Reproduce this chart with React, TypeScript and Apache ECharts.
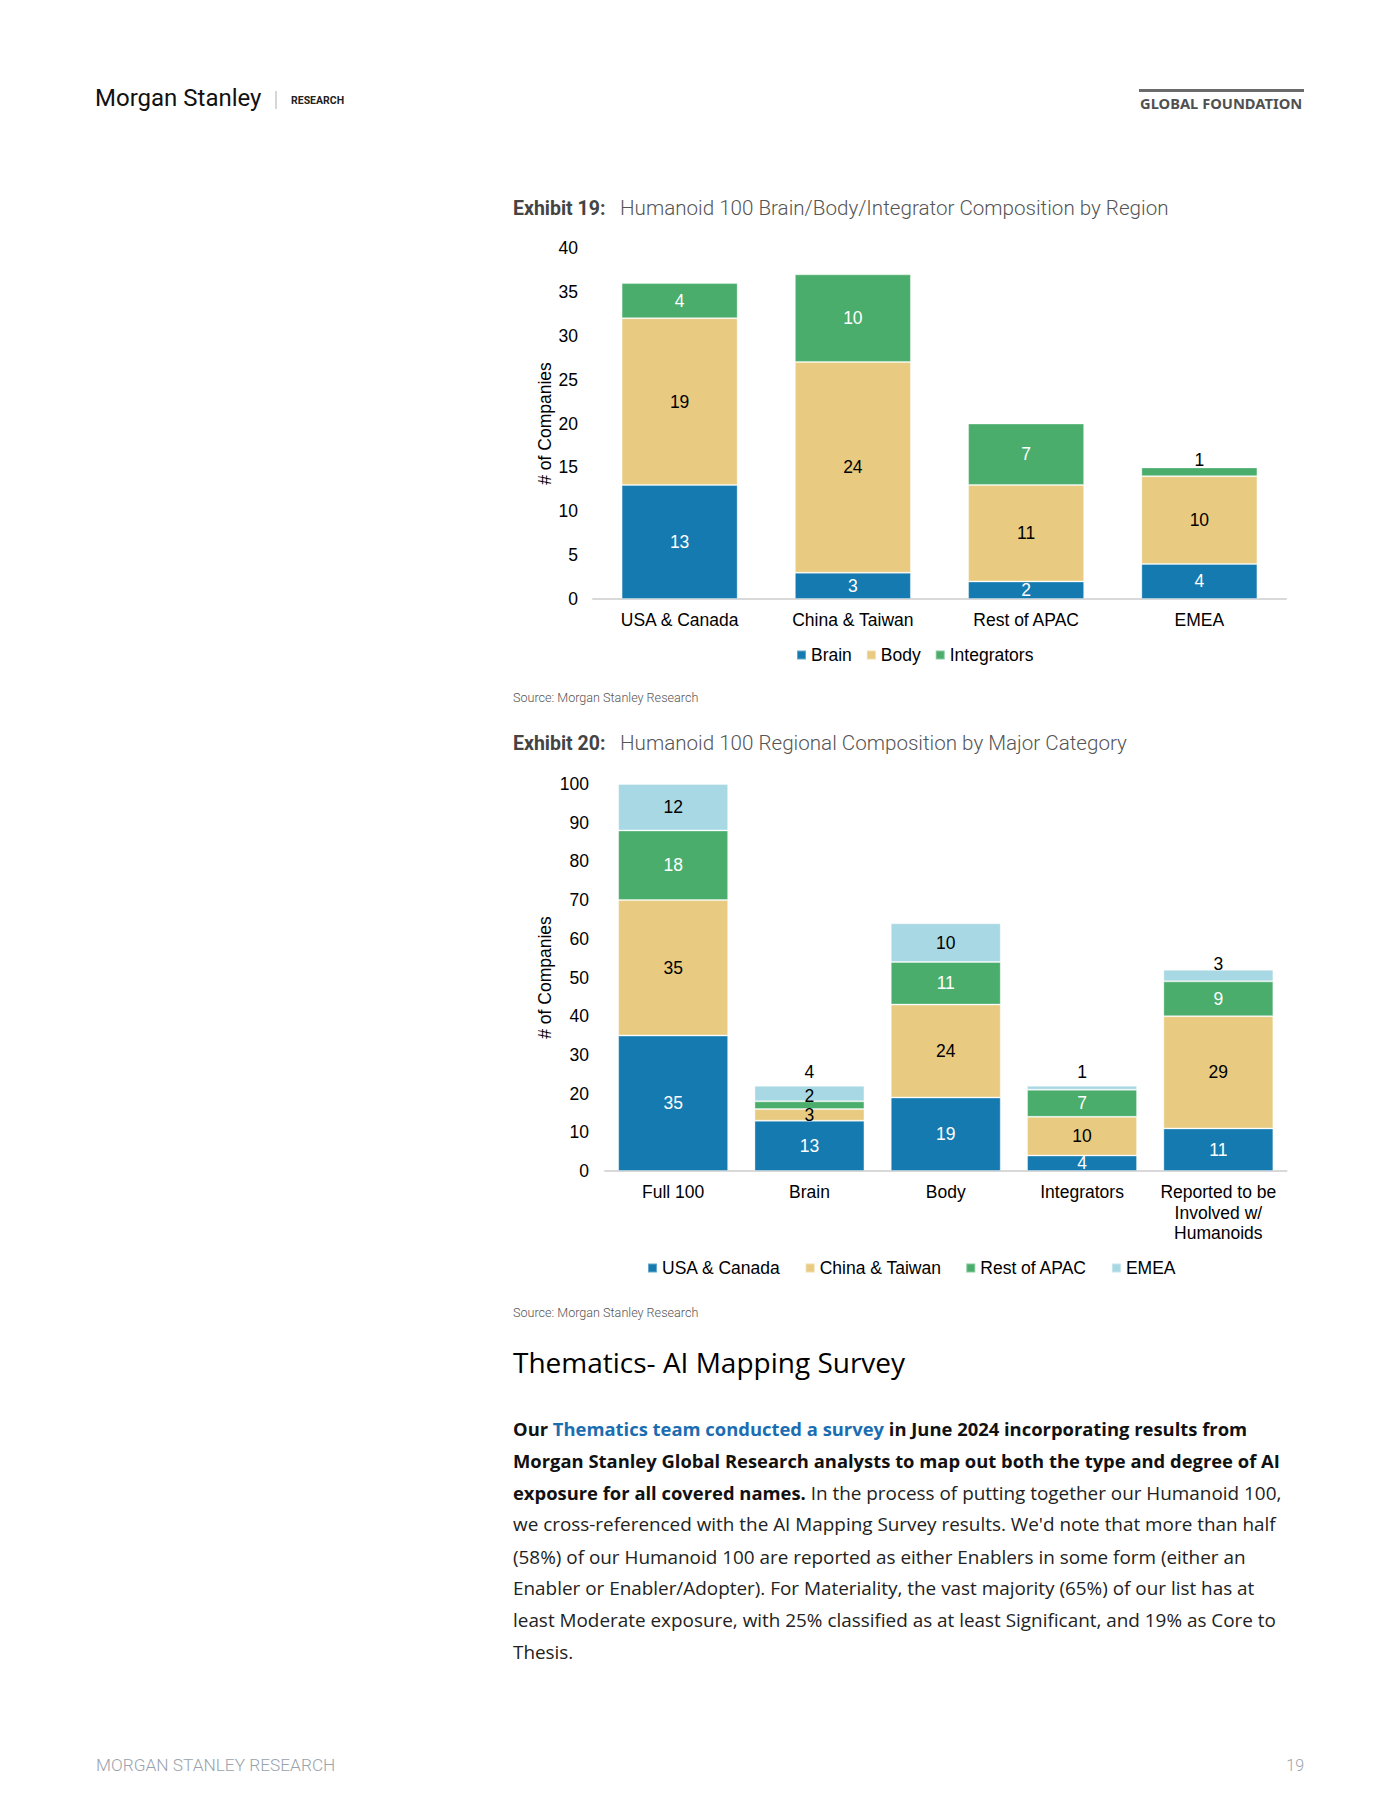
import React, { useEffect, useRef } from "react";
import * as echarts from "echarts";

// ---- Exhibit 19 data ----
const regions = ["USA & Canada", "China & Taiwan", "Rest of APAC", "EMEA"];
const brainByRegion = [13, 3, 2, 4];
const bodyByRegion = [19, 24, 11, 10];
const integratorsByRegion = [4, 10, 7, 1];

// ---- Exhibit 20 data ----
const majorCategories = ["Full 100", "Brain", "Body", "Integrators", "Reported to be\nInvolved w/\nHumanoids"];
const usaCanada = [35, 13, 19, 4, 11];
const chinaTaiwan = [35, 3, 24, 10, 29];
const restOfApac = [18, 2, 11, 7, 9];
const emea = [12, 4, 10, 1, 3];

const BLUE = "#157AB0";
const YELLOW = "#E8CB80";
const GREEN = "#4AAD6C";
const LIGHTBLUE = "#A8D8E3";

const LABEL_FONT = "Liberation Sans";
const UI_FONT = "Roboto";
const BODY_FONT = "'Open Sans'";
const FS = 17.5;

const barLabel = (color: string) => ({
  show: true,
  position: "inside",
  color,
  fontSize: FS,
  fontFamily: LABEL_FONT,
});

const itemStyle = (color: string) => ({
  color,
  borderColor: "rgba(255,255,255,0.35)",
  borderWidth: 1,
});

export default function App() {
  const ref = useRef<HTMLDivElement>(null);

  useEffect(() => {
    if (!ref.current) return;
    const chart = echarts.init(ref.current, null, { renderer: "svg" });

    const axisLabelX = {
      fontSize: FS,
      color: "#000",
      fontFamily: LABEL_FONT,
      margin: 11,
      lineHeight: 20.5,
      interval: 0,
    };
    const axisLabelY = (margin: number) => ({
      fontSize: FS,
      color: "#000",
      fontFamily: LABEL_FONT,
      margin,
    });

    // chart 1: top series label above bar when segment is thin
    const integratorsData = integratorsByRegion.map((v) =>
      v <= 2
        ? { value: v, label: { position: "top", color: "#000", distance: -1.5 } }
        : v
    );
    // chart 2: top series small segments labelled above the bar
    const emeaData = emea.map((v) =>
      v < 5
        ? { value: v, label: { position: "top", color: "#000", distance: v === 3 ? -3.5 : 4.5 } }
        : v
    );
    const restData = restOfApac.map((v, i) =>
      i === 1 ? { value: v, label: { color: "#000", offset: [0, -9] } } : v
    );

    const paraLines: string[] = [
      "{b|Our }{l|Thematics team conducted a survey}{b| in June 2024 incorporating results from}",
      "{b|Morgan Stanley Global Research analysts to map out both the type and degree of AI}",
      "{b|exposure for all covered names.}{n| In the process of putting together our Humanoid 100,}",
      "{n|we cross-referenced with the AI Mapping Survey results. We'd note that more than half}",
      "{n|(58%) of our Humanoid 100 are reported as either Enablers in some form (either an}",
      "{n|Enabler or Enabler/Adopter). For Materiality, the vast majority (65%) of our list has at}",
      "{n|least Moderate exposure, with 25% classified as at least Significant, and 19% as Core to}",
      "{n|Thesis.}",
    ];
    const paraY = [1428, 1460, 1492.5, 1524, 1556.5, 1588, 1620, 1652];
    const rich = {
      b: { fontFamily: BODY_FONT, fontSize: 18.4, fontWeight: "bold", fill: "#111" },
      l: { fontFamily: BODY_FONT, fontSize: 18.4, fontWeight: "bold", fill: "#1B6DB1" },
      n: { fontFamily: BODY_FONT, fontSize: 18.9, fontWeight: "normal", fill: "#222" },
    };

    const graphics: any[] = [
      // header
      {
        type: "text",
        x: 95,
        y: 98,
        style: { text: "Morgan Stanley", font: `24px ${UI_FONT}`, fill: "#111", textVerticalAlign: "middle" },
      },
      { type: "line", shape: { x1: 276, y1: 91, x2: 276, y2: 109 }, style: { stroke: "#c8c8c8", lineWidth: 1.5 } },
      {
        type: "text",
        x: 291,
        y: 100,
        style: { text: "RESEARCH", font: `bold 10.5px ${UI_FONT}`, fill: "#222", textVerticalAlign: "middle" },
      },
      { type: "line", shape: { x1: 1139, y1: 90.5, x2: 1304, y2: 90.5 }, style: { stroke: "#6b6b6b", lineWidth: 3 } },
      {
        type: "text",
        x: 1140,
        y: 102.5,
        style: { text: "GLOBAL FOUNDATION", font: `bold 14.7px 'Noto Sans'`, fill: "#505050", textVerticalAlign: "middle" },
      },
      // exhibit 19 title
      {
        type: "text",
        x: 513,
        y: 208,
        style: { text: "Exhibit 19:", font: `bold 19.5px ${UI_FONT}`, fill: "#444", textVerticalAlign: "middle" },
      },
      {
        type: "text",
        x: 620,
        y: 208,
        style: {
          text: "Humanoid 100 Brain/Body/Integrator Composition by Region",
          font: `300 20.6px ${UI_FONT}`,
          fill: "#555",
          textVerticalAlign: "middle",
        },
      },
      {
        type: "text",
        x: 513,
        y: 697,
        style: { text: "Source: Morgan Stanley Research", font: `300 12.6px ${UI_FONT}`, fill: "#555", textVerticalAlign: "middle" },
      },
      // exhibit 20 title
      {
        type: "text",
        x: 513,
        y: 743,
        style: { text: "Exhibit 20:", font: `bold 19.5px ${UI_FONT}`, fill: "#444", textVerticalAlign: "middle" },
      },
      {
        type: "text",
        x: 620,
        y: 743,
        style: {
          text: "Humanoid 100 Regional Composition by Major Category",
          font: `300 20.6px ${UI_FONT}`,
          fill: "#555",
          textVerticalAlign: "middle",
        },
      },
      {
        type: "text",
        x: 513,
        y: 1312,
        style: { text: "Source: Morgan Stanley Research", font: `300 12.6px ${UI_FONT}`, fill: "#555", textVerticalAlign: "middle" },
      },
      // heading
      {
        type: "text",
        x: 513,
        y: 1362,
        style: { text: "Thematics- AI Mapping Survey", font: `500 28px ${BODY_FONT}`, fill: "#000", textVerticalAlign: "middle" },
      },
      // footer
      {
        type: "text",
        x: 96,
        y: 1765,
        style: { text: "MORGAN STANLEY RESEARCH", font: `300 17.3px ${UI_FONT}`, fill: "#9aa3ab", textVerticalAlign: "middle" },
      },
      {
        type: "text",
        x: 1304,
        y: 1765,
        style: { text: "19", font: `300 16px ${UI_FONT}`, fill: "#9aa3ab", textAlign: "right", textVerticalAlign: "middle" },
      },
    ];
    paraLines.forEach((t, i) => {
      graphics.push({
        type: "text",
        x: 513,
        y: paraY[i],
        style: { text: t, rich, font: `18px ${BODY_FONT}`, textVerticalAlign: "middle" },
      });
    });

    chart.setOption({
      animation: false,
      backgroundColor: "#fff",
      textStyle: { fontFamily: LABEL_FONT },
      grid: [
        { left: 593, top: 248, width: 693, height: 351, containLabel: false },
        { left: 605, top: 784, width: 681.5, height: 387, containLabel: false },
      ],
      legend: [
        {
          data: ["Brain", "Body", "Integrators"],
          left: 791,
          top: 641,
          itemWidth: 9,
          itemHeight: 9,
          itemGap: 14,
          icon: "rect",
          textStyle: { fontSize: FS, color: "#000", fontFamily: LABEL_FONT },
          selectedMode: false,
        },
        {
          data: ["USA & Canada", "China & Taiwan", "Rest of APAC", "EMEA"],
          left: 642,
          top: 1254,
          itemWidth: 9,
          itemHeight: 9,
          itemGap: 24,
          icon: "rect",
          textStyle: { fontSize: FS, color: "#000", fontFamily: LABEL_FONT },
          selectedMode: false,
        },
      ],
      xAxis: [
        {
          type: "category",
          gridIndex: 0,
          data: regions,
          axisLine: { lineStyle: { color: "#d9d9d9", width: 2 } },
          axisTick: { show: false },
          axisLabel: axisLabelX,
        },
        {
          type: "category",
          gridIndex: 1,
          data: majorCategories,
          axisLine: { lineStyle: { color: "#d9d9d9", width: 2 } },
          axisTick: { show: false },
          axisLabel: axisLabelX,
        },
      ],
      yAxis: [
        {
          type: "value",
          gridIndex: 0,
          min: 0,
          max: 40,
          interval: 5,
          axisLine: { show: false },
          axisTick: { show: false },
          splitLine: { show: false },
          axisLabel: axisLabelY(15),
          name: "# of Companies",
          nameLocation: "middle",
          nameGap: 39,
          nameTextStyle: { fontSize: FS, color: "#000", fontFamily: LABEL_FONT },
        },
        {
          type: "value",
          gridIndex: 1,
          min: 0,
          max: 100,
          interval: 10,
          axisLine: { show: false },
          axisTick: { show: false },
          splitLine: { show: false },
          axisLabel: axisLabelY(16),
          name: "# of Companies",
          nameLocation: "middle",
          nameGap: 51,
          nameTextStyle: { fontSize: FS, color: "#000", fontFamily: LABEL_FONT },
        },
      ],
      series: [
        {
          name: "Brain",
          type: "bar",
          stack: "ex19",
          xAxisIndex: 0,
          yAxisIndex: 0,
          barCategoryGap: "33%",
          data: brainByRegion,
          itemStyle: itemStyle(BLUE),
          label: barLabel("#fff"),
        },
        {
          name: "Body",
          type: "bar",
          stack: "ex19",
          xAxisIndex: 0,
          yAxisIndex: 0,
          data: bodyByRegion,
          itemStyle: itemStyle(YELLOW),
          label: barLabel("#000"),
        },
        {
          name: "Integrators",
          type: "bar",
          stack: "ex19",
          xAxisIndex: 0,
          yAxisIndex: 0,
          data: integratorsData,
          itemStyle: itemStyle(GREEN),
          label: barLabel("#fff"),
        },
        {
          name: "USA & Canada",
          type: "bar",
          stack: "ex20",
          xAxisIndex: 1,
          yAxisIndex: 1,
          barCategoryGap: "19.3%",
          data: usaCanada,
          itemStyle: itemStyle(BLUE),
          label: barLabel("#fff"),
        },
        {
          name: "China & Taiwan",
          type: "bar",
          stack: "ex20",
          xAxisIndex: 1,
          yAxisIndex: 1,
          data: chinaTaiwan,
          itemStyle: itemStyle(YELLOW),
          label: barLabel("#000"),
        },
        {
          name: "Rest of APAC",
          type: "bar",
          stack: "ex20",
          xAxisIndex: 1,
          yAxisIndex: 1,
          data: restData,
          itemStyle: itemStyle(GREEN),
          label: barLabel("#fff"),
        },
        {
          name: "EMEA",
          type: "bar",
          stack: "ex20",
          xAxisIndex: 1,
          yAxisIndex: 1,
          data: emeaData,
          itemStyle: itemStyle(LIGHTBLUE),
          label: barLabel("#000"),
        },
      ],
      graphic: graphics,
    });

    return () => chart.dispose();
  }, []);

  return (
    <div
      ref={ref}
      style={{ position: "absolute", left: 0, top: 0, width: 1400, height: 1812, background: "#fff" }}
    />
  );
}
